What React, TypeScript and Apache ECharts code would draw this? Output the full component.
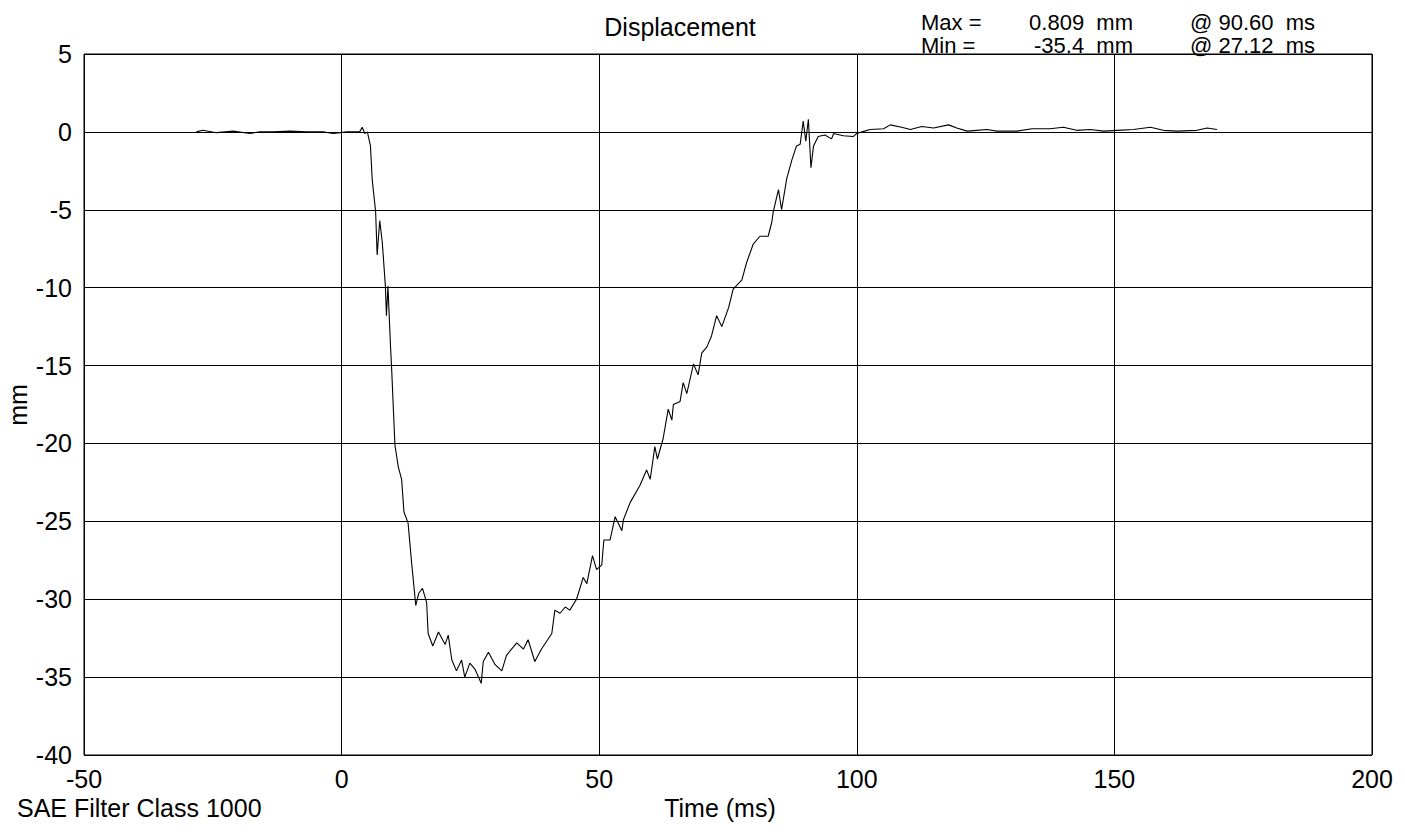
import React, { useEffect, useRef } from "react";
import * as echarts from "echarts";

const timeMs: number[] = [
  -28.2, -26.9, -24.3, -21.0, -17.8, -15.9, -13.3, -10.0, -6.8, -3.6, -1.6, 1.0, 2.5, 3.5, 4.0, 4.5, 5.0,
  5.6, 5.95, 6.6, 6.9, 7.4, 7.9, 8.5, 8.7, 9.0, 9.5, 9.7, 10.35, 11.0, 11.65, 12.1, 12.9, 13.6, 14.4,
  15.0, 15.7, 16.5, 16.8, 17.7, 18.8, 20.1, 20.7, 21.4, 22.3, 23.3, 23.9, 24.9, 25.9, 27.1, 27.5, 28.5,
  29.8, 31.1, 32.0, 34.0, 35.3, 36.2, 37.5, 38.8, 40.8, 41.4, 42.4, 43.4, 44.3, 45.6, 46.9, 47.6, 48.7,
  49.5, 50.5, 50.9, 52.1, 53.1, 54.4, 54.7, 56.0, 57.9, 59.2, 59.9, 60.8, 61.3, 62.4, 63.4, 64.1, 64.4,
  65.7, 66.3, 67.0, 68.3, 69.2, 69.9, 70.9, 71.8, 72.8, 73.8, 75.1, 76.0, 77.7, 78.6, 79.9, 81.2, 82.8,
  83.5, 83.8, 84.8, 85.4, 86.4, 87.4, 88.3, 89.0, 89.6, 90.1, 90.6, 91.1, 91.6, 92.5, 93.8, 95.1, 95.5,
  97.4, 99.3, 100.0, 101.0, 102.6, 105.2, 106.5, 108.7, 110.4, 112.6, 114.9, 117.8, 119.4, 121.4, 123.3,
  125.2, 127.2, 131.1, 134.0, 137.5, 140.1, 142.7, 145.3, 147.9, 150.5, 153.7, 157.0, 159.5, 162.1,
  166.0, 168.0, 169.9,
];

const dispMm: number[] = [
  0, 0.1, -0.05, 0.05, -0.1, 0, 0, 0.05, 0, 0, -0.1, 0, 0, 0, 0.3, -0.1, 0,
  -0.9, -3.1, -5.1, -7.9, -5.7, -7.1, -9.9, -11.8, -9.9, -13.8, -15.1, -20.1, -21.5, -22.3, -24.4, -25.1, -27.7, -30.4,
  -29.6, -29.3, -30.2, -32.2, -33.0, -32.1, -32.9, -32.3, -33.9, -34.6, -33.9, -35.0, -34.1, -34.5, -35.4, -34.0, -33.4,
  -34.2, -34.6, -33.6, -32.8, -33.2, -32.6, -34.0, -33.2, -32.2, -30.7, -30.9, -30.5, -30.7, -30.0, -28.6, -29.0, -27.2,
  -28.1, -27.8, -26.2, -26.2, -24.7, -25.6, -24.9, -23.8, -22.7, -21.7, -22.3, -20.2, -21.0, -19.7, -17.8, -18.5, -17.5,
  -17.3, -16.1, -16.8, -14.9, -15.6, -14.2, -13.8, -13.1, -11.8, -12.5, -11.3, -10.1, -9.5, -8.4, -7.2, -6.7, -6.7,
  -5.8, -5.1, -3.7, -5.0, -3.0, -1.8, -0.9, -0.8, 0.7, -0.6, 0.809, -2.3, -0.9, -0.3, -0.2, -0.45, -0.1,
  -0.25, -0.3, -0.1, 0, 0.15, 0.2, 0.45, 0.3, 0.15, 0.35, 0.25, 0.45, 0.25, 0.05, 0.1,
  0.15, 0.05, 0.05, 0.2, 0.2, 0.3, 0.1, 0.15, 0.05, 0.1, 0.15, 0.3, 0.1, 0.05,
  0.1, 0.25, 0.15,
];

const xTicks = { min: -50, max: 200, interval: 50 };
const yTicks = { min: -40, max: 5, interval: 5 };

const titleText = "Displacement";
const xLabel = "Time (ms)";
const yLabel = "mm";
const filterText = "SAE Filter Class 1000";
const statLabels = ["Max =", "Min ="];
const statValues = ["0.809  mm", "-35.4  mm"];
const statTimes = ["@ 90.60  ms", "@ 27.12  ms"];

const FONT = "'Liberation Sans', Arial, sans-serif";

export default function App() {
  const ref = useRef<HTMLDivElement>(null);
  useEffect(() => {
    if (!ref.current) return;
    const chart = echarts.init(ref.current, undefined, { renderer: "svg" });
    const txt = (text: string, x: number, y: number, extra: any = {}, size = 25) => ({
      type: "text",
      x,
      y,
      style: { text, fill: "#000", font: `${size}px ${FONT}`, ...extra },
    });
    const rowY = [22.5, 45.5];
    const statTexts: any[] = [];
    rowY.forEach((y, i) => {
      statTexts.push(txt(statLabels[i], 921, y, { verticalAlign: "middle", align: "left" }, 22));
      statTexts.push(txt(statValues[i], 1133, y, { verticalAlign: "middle", align: "right" }, 22));
      statTexts.push(txt(statTimes[i], 1190, y, { verticalAlign: "middle", align: "left" }, 22));
    });
    chart.setOption({
      animation: false,
      backgroundColor: "#fff",
      grid: {
        left: 84,
        right: 33,
        top: 54,
        bottom: 79,
        show: true,
        borderColor: "#000",
        borderWidth: 1,
        backgroundColor: "#fff",
      },
      xAxis: {
        type: "value",
        min: xTicks.min,
        max: xTicks.max,
        interval: xTicks.interval,
        axisLine: { show: false },
        axisTick: { show: false },
        splitLine: { show: true, lineStyle: { color: "#000", width: 1 } },
        axisLabel: { color: "#000", fontSize: 25, fontFamily: FONT, margin: 11 },
      },
      yAxis: {
        type: "value",
        min: yTicks.min,
        max: yTicks.max,
        interval: yTicks.interval,
        axisLine: { show: false },
        axisTick: { show: false },
        splitLine: { show: true, lineStyle: { color: "#000", width: 1 } },
        axisLabel: { color: "#000", fontSize: 25, fontFamily: FONT, margin: 12 },
      },
      series: [
        {
          type: "line",
          data: timeMs.map((t, i) => [t, dispMm[i]]),
          showSymbol: false,
          symbol: "none",
          lineStyle: { color: "#000", width: 1.1 },
        },
      ],
      graphic: [
        txt(titleText, 680, 27, { align: "center", verticalAlign: "middle" }),
        ...statTexts,
        txt(xLabel, 720, 808, { align: "center", verticalAlign: "middle" }),
        txt(filterText, 17, 808, { align: "left", verticalAlign: "middle" }),
        {
          type: "text",
          x: 18,
          y: 405,
          rotation: Math.PI / 2,
          style: { text: yLabel, fill: "#000", font: `25px ${FONT}`, align: "center", verticalAlign: "middle" },
        },
      ],
    });
    return () => chart.dispose();
  }, []);
  return (
    <div
      ref={ref}
      style={{ position: "fixed", left: 0, top: 0, width: 1405, height: 834, background: "#fff" }}
    />
  );
}
